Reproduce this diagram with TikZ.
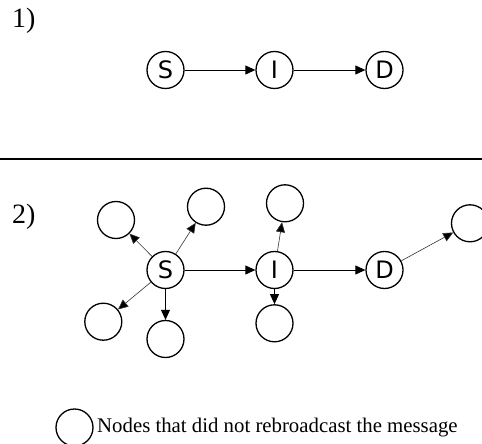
\documentclass[tikz,border=0pt]{standalone}
\usepackage{fontspec}
\setmainfont{Liberation Serif}
\newfontfamily\nodefont{DejaVu Sans}
\usetikzlibrary{arrows.meta}
\begin{document}
\begin{tikzpicture}[x=1pt,y=-1pt,
  nd/.style={circle,draw,line width=1.3pt,minimum size=37pt,inner sep=0pt,font=\nodefont\fontsize{24}{24}\selectfont},
  harrow/.style={line width=0.9pt,-{Triangle[length=10pt,width=9pt]}},
  darrow/.style={line width=0.6pt,draw=black!80,-{Triangle[length=10pt,width=9pt,fill=black]}},
  lbl/.style={font=\fontsize{28}{28}\selectfont,inner sep=0pt,anchor=base west}]
\useasboundingbox (0,0) rectangle (482,444);
% panel 1
\node[lbl] (l1) at (12,28) {1)};
\node[nd] (s1) at (165.5,70) {S};
\node[nd] (i1) at (274.5,70) {I};
\node[nd] (d1) at (384.5,70) {D};
\draw[harrow] (s1) -- (i1);
\draw[harrow] (i1) -- (d1);
% separator
\coordinate (sepl) at (0,159);
\coordinate (sepr) at (482,159);
\draw[line width=1.2pt] (sepl) -- (sepr);
% panel 2
\node[lbl] (l2) at (12,223) {2)};
\node[nd] (s2) at (165.5,270) {S};
\node[nd] (i2) at (274.5,270) {I};
\node[nd] (d2) at (384.5,270) {D};
\node[nd] (n1) at (116,220) {};
\node[nd] (n2) at (206,206.7) {};
\node[nd] (n3) at (103.3,321.7) {};
\node[nd] (n4) at (165.5,339) {};
\node[nd] (n5) at (285,203.3) {};
\node[nd] (n6) at (274.5,323.3) {};
\node[nd] (n7) at (470,223.3) {};
\draw[harrow] (s2) -- (i2);
\draw[harrow] (i2) -- (d2);
\draw[darrow] (s2) -- (n1);
\draw[darrow] (s2) -- (n2);
\draw[darrow] (s2) -- (n3);
\draw[harrow] (s2) -- (n4);
\draw[darrow] (i2) -- (n5);
\draw[harrow] (i2) -- (n6);
\draw[darrow] (d2) -- (n7);
% legend
\node[nd] (lg) at (74.5,427.5) {};
\node[font=\fontsize{20.8}{21}\selectfont,inner sep=0pt,anchor=base west] (lt) at (97,432) {Nodes that did not rebroadcast the message};
\end{tikzpicture}
\end{document}
